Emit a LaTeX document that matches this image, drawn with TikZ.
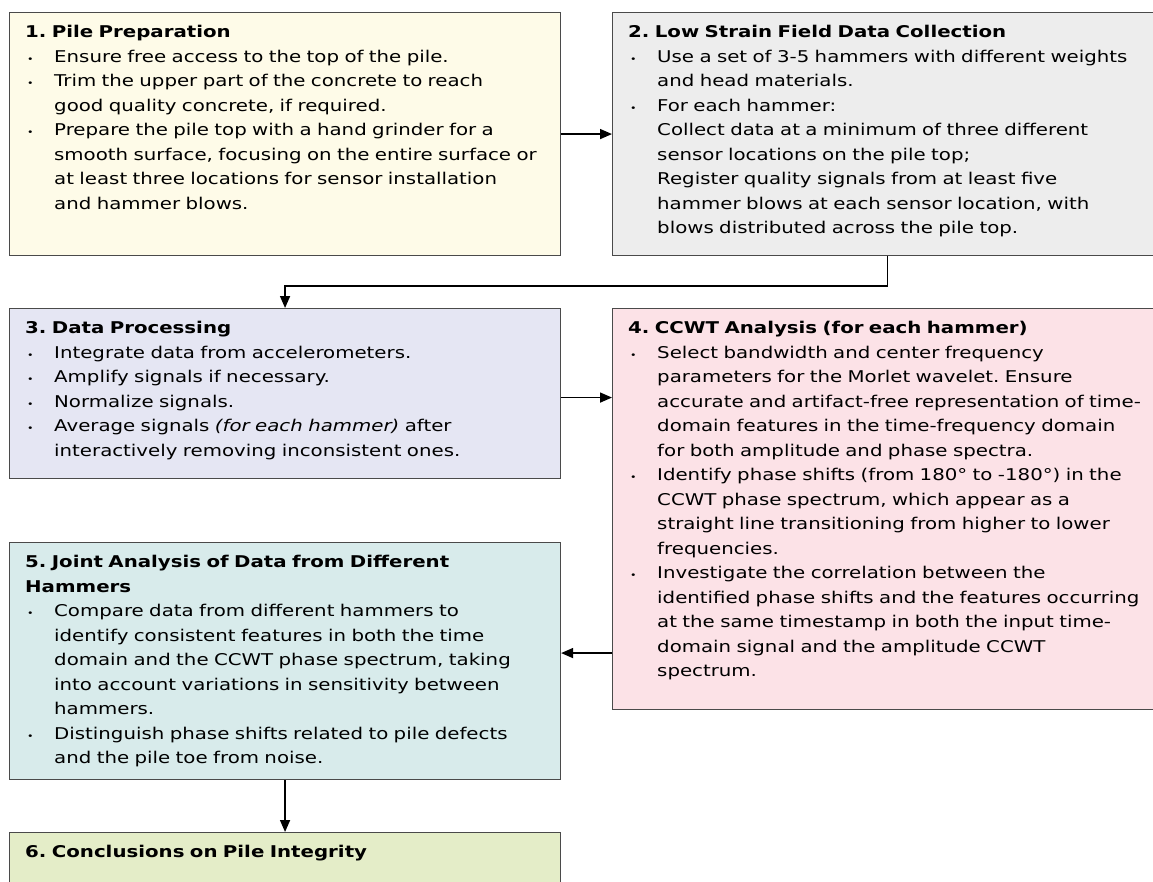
\documentclass[tikz,border=0pt]{standalone}
\usepackage{fontspec}
\setmainfont[FakeStretch=1.22]{DejaVu Sans}
\usetikzlibrary{positioning,arrows.meta}

\definecolor{prepyellow}{HTML}{FEFBE8}
\definecolor{fieldgray}{HTML}{EDEDED}
\definecolor{proclilac}{HTML}{E5E6F3}
\definecolor{ccwtpink}{HTML}{FCE2E7}
\definecolor{jointteal}{HTML}{D8EBEB}
\definecolor{conclgreen}{HTML}{E4EDC8}
\definecolor{framegray}{HTML}{4A4A4A}

\newlength{\bulind}
\setlength{\bulind}{29pt}
\newcommand{\bul}[1]{\par\hangindent=\bulind\hangafter=1\noindent
  \makebox[\bulind][l]{\hspace{2pt}\small•}{\let\\\newline #1}\par}
\newcommand{\stagetitle}[1]{\noindent\textbf{#1}}

\tikzset{
  stage/.style={draw=framegray, line width=1.1pt, anchor=north west, inner sep=0pt},
  stagetext/.style={anchor=north west, align=left, text width=560pt, inner sep=0pt,
    font=\fontsize{16.2}{24.5}\selectfont\frenchspacing},
  flow/.style={->, line width=1.5pt}
}

\begin{document}
\begin{tikzpicture}[>={Triangle[length=12pt,width=10pt]}, x=1pt, y=-1pt]
  \useasboundingbox (0,0) rectangle (1153,881);
  % boxes
  \node[stage, fill=prepyellow, minimum width=551pt, minimum height=243pt] (s1) at (9,12) {};
  \node[stage, fill=fieldgray,  minimum width=545pt, minimum height=243pt] (s2) at (612,12) {};
  \node[stage, fill=proclilac,  minimum width=551pt, minimum height=170pt] (s3) at (9,308) {};
  \node[stage, fill=ccwtpink,   minimum width=545pt, minimum height=401pt] (s4) at (612,308) {};
  \node[stage, fill=jointteal,  minimum width=551pt, minimum height=237pt] (s5) at (9,542) {};
  \node[stage, fill=conclgreen, minimum width=551pt, minimum height=80pt] (s6) at (9,832) {};

  % texts
  \node[stagetext, below right=13pt and 16pt of s1.north west] (t1) {%
    \stagetitle{1. Pile Preparation}
    \bul{Ensure free access to the top of the pile.}
    \bul{Trim the upper part of the concrete to reach\\good quality concrete, if required.}
    \bul{Prepare the pile top with a hand grinder for a\\smooth surface, focusing on the entire surface or\\at least three locations for sensor installation\\and hammer blows.}};
  \node[stagetext, below right=13pt and 16pt of s2.north west] (t2) {%
    \stagetitle{2. Low Strain Field Data Collection}
    \bul{Use a set of 3-5 hammers with different weights\\and head materials.}
    \bul{For each hammer:\\Collect data at a minimum of three different\\sensor locations on the pile top;\\Register quality signals from at least five\\hammer blows at each sensor location, with\\blows distributed across the pile top.}};
  \node[stagetext, below right=13pt and 16pt of s3.north west] (t3) {%
    \stagetitle{3. Data Processing}
    \bul{Integrate data from accelerometers.}
    \bul{Amplify signals if necessary.}
    \bul{Normalize signals.}
    \bul{Average signals \textit{(for each hammer)} after\\interactively removing inconsistent ones.}};
  \node[stagetext, below right=13pt and 16pt of s4.north west] (t4) {%
    \stagetitle{4. CCWT Analysis (for each hammer)}
    \bul{Select bandwidth and center frequency\\parameters for the Morlet wavelet. Ensure\\accurate and artifact-free representation of time-\\domain features in the time-frequency domain\\for both amplitude and phase spectra.}
    \bul{Identify phase shifts (from 180° to -180°) in the\\CCWT phase spectrum, which appear as a\\straight line transitioning from higher to lower\\frequencies.}
    \bul{Investigate the correlation between the\\identified phase shifts and the features occurring\\at the same timestamp in both the input time-\\domain signal and the amplitude CCWT\\spectrum.}};
  \node[stagetext, below right=13pt and 16pt of s5.north west] (t5) {%
    \stagetitle{5. Joint Analysis of Data from Different\\Hammers}
    \bul{Compare data from different hammers to\\identify consistent features in both the time\\domain and the CCWT phase spectrum, taking\\into account variations in sensitivity between\\hammers.}
    \bul{Distinguish phase shifts related to pile defects\\and the pile toe from noise.}};
  \node[stagetext, below right=13pt and 16pt of s6.north west] (t6) {%
    \stagetitle{6. Conclusions on Pile Integrity}};

  % connectors
  \draw[flow] (s1.east) -- (s1.east -| s2.west);
  \draw[flow] ([xshift=2.5pt]s2.south) -- ++(0,30) -| (s3.north);
  \draw[flow] ([yshift=-4pt]s3.east) -- ([yshift=-4pt]s3.east -| s4.west);
  \draw[flow] ([yshift=8pt]s5.east -| s4.west) -- ([yshift=8pt]s5.east);
  \draw[flow] (s5.south) -- (s6.north);
\end{tikzpicture}
\end{document}
